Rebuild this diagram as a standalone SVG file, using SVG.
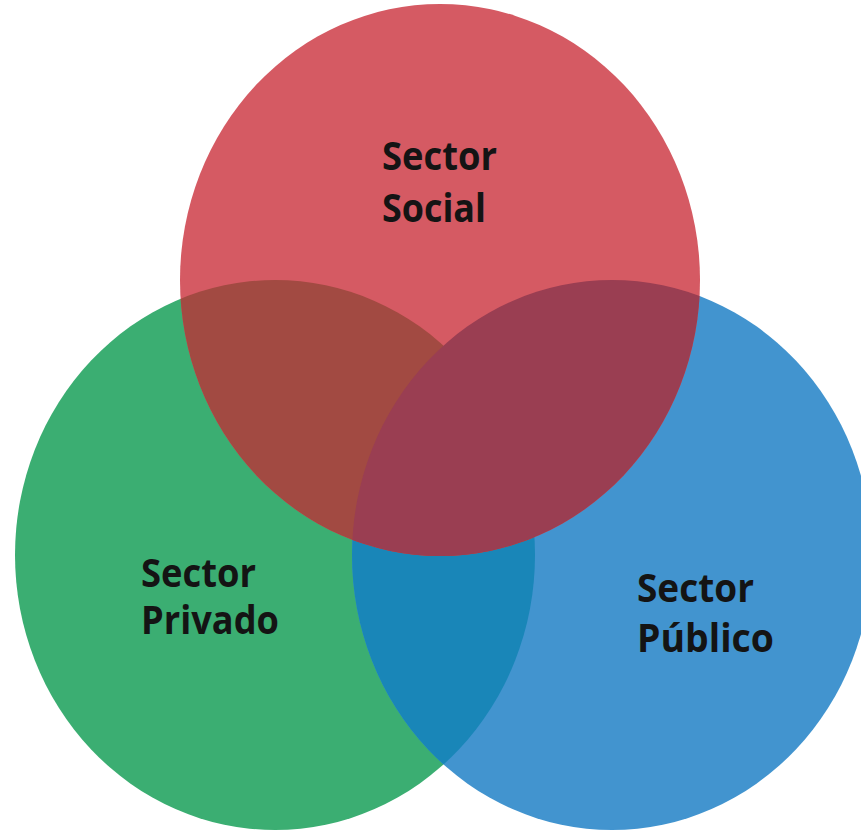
<svg xmlns="http://www.w3.org/2000/svg" width="861" height="833" viewBox="0 0 861 833">
  <style>
    .lbl { font-family: "Open Sans", "Liberation Sans", sans-serif; font-weight: bold; font-size: 39px; fill: #141414; }
  </style>
  <defs>
    <ellipse id="eR" cx="440" cy="280" rx="260" ry="276"/>
    <ellipse id="eG" cx="275" cy="555" rx="260" ry="275"/>
    <ellipse id="eB" cx="612" cy="555" rx="260" ry="275"/>
    <clipPath id="cG"><use href="#eG"/></clipPath>
    <clipPath id="cB"><use href="#eB"/></clipPath>
  </defs>
  <rect width="861" height="833" fill="#ffffff"/>
  <g id="sector-privado">
    <use href="#eG" fill="#3bae72"/>
    <text class="lbl" x="141" y="587" textLength="115" lengthAdjust="spacingAndGlyphs">Sector</text>
    <text class="lbl" x="141" y="634" textLength="138" lengthAdjust="spacingAndGlyphs">Privado</text>
  </g>
  <g id="sector-publico">
    <use href="#eB" fill="#4294cf"/>
    <g clip-path="url(#cG)"><use href="#eB" fill="#1986b8"/></g>
    <text class="lbl" x="637" y="602" textLength="117" lengthAdjust="spacingAndGlyphs">Sector</text>
    <text class="lbl" x="637" y="652" textLength="137" lengthAdjust="spacingAndGlyphs">Público</text>
  </g>
  <g id="sector-social">
    <use href="#eR" fill="#d55a63"/>
    <g clip-path="url(#cG)"><use href="#eR" fill="#a24a42"/></g>
    <g clip-path="url(#cB)"><use href="#eR" fill="#9a3e52"/></g>
    <text class="lbl" x="382" y="170" textLength="115" lengthAdjust="spacingAndGlyphs">Sector</text>
    <text class="lbl" x="382" y="222" textLength="104" lengthAdjust="spacingAndGlyphs">Social</text>
  </g>
  <g id="connectors"/>
</svg>
